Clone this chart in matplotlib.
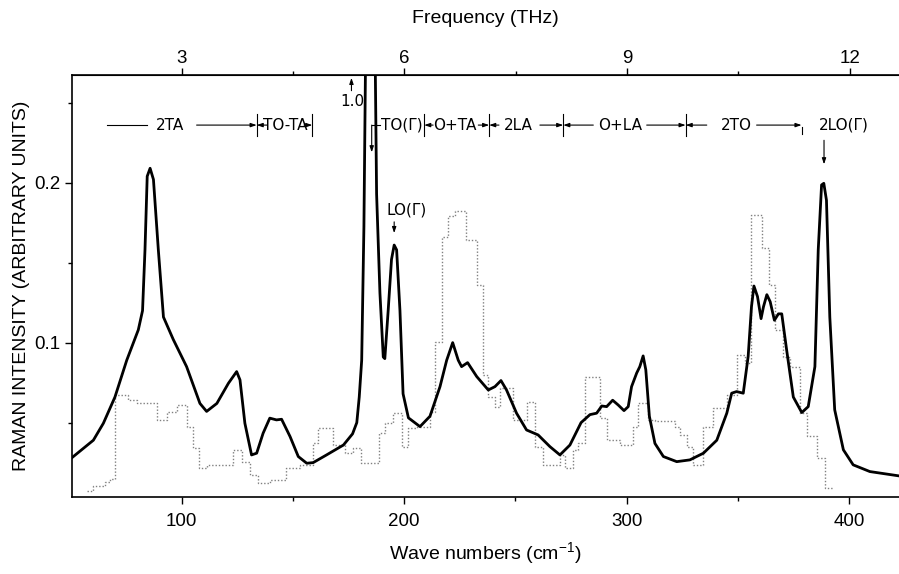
import matplotlib.pyplot as plt
from matplotlib.ticker import FixedLocator

plt.rcParams['font.family'] = ['Liberation Sans', 'DejaVu Sans']
plt.rcParams['mathtext.fontset'] = 'custom'
plt.rcParams['mathtext.rm'] = 'Liberation Sans'

# solid curve: measured Raman spectrum (wave number, intensity)
raman_wn = [50.6, 60.3, 64.8, 70.0, 75.3, 80.5, 82.4, 83.5, 84.5, 85.8, 87.3, 89.5,
            91.8, 96.2, 102.2, 108.2, 111.2, 115.8, 121.0, 124.7, 126.2, 128.4,
            131.4, 133.7, 136.6, 139.6, 142.6, 144.9, 148.7, 152.4, 156.2, 159.1,
            165.1, 172.7, 176.8, 178.7, 179.8, 180.9, 181.9, 182.8, 184.7, 186.8,
            187.6, 189.1, 190.6, 191.3, 192.8, 194.3, 195.5, 196.6, 198.1, 199.5,
            201.9, 207.1, 211.6, 216.1, 219.1, 221.8, 224.3, 225.8, 228.5, 232.6,
            237.8, 240.8, 243.5, 246.0, 250.5, 255.0, 260.2, 265.5, 270.0, 274.5,
            279.5, 283.5, 286.5, 288.8, 291.0, 293.7, 296.2, 298.8, 300.7, 302.2,
            304.5, 305.9, 307.4, 308.6, 310.2, 312.7, 316.5, 322.5, 328.4, 334.5,
            340.5, 345.0, 347.2, 349.4, 352.4, 354.6, 356.1, 357.2, 358.8, 360.4,
            361.5, 363.0, 364.5, 366.4, 368.2, 369.7, 371.9, 374.9, 378.7, 381.6,
            384.6, 386.1, 387.6, 388.6, 389.8, 391.3, 393.5, 397.4, 401.8, 409.3,
            422.4]
raman_int = [0.028, 0.039, 0.0496, 0.066, 0.089, 0.108, 0.120, 0.158, 0.204, 0.209,
             0.202, 0.158, 0.116, 0.102, 0.085, 0.062, 0.057, 0.062, 0.0746, 0.0819,
             0.0767, 0.0496, 0.0298, 0.0309, 0.0434, 0.0528, 0.0517, 0.0521, 0.0413,
             0.0288, 0.0246, 0.025, 0.0298, 0.036, 0.043, 0.050, 0.066, 0.089, 0.1725,
             0.30, 1.0, 0.30, 0.193, 0.131, 0.091, 0.090, 0.120, 0.152, 0.161, 0.158,
             0.120, 0.068, 0.053, 0.0475, 0.054, 0.0725, 0.089, 0.100, 0.089, 0.085,
             0.0875, 0.0788, 0.0704, 0.0725, 0.0763, 0.0704, 0.0559, 0.0454, 0.0423,
             0.035, 0.0298, 0.036, 0.050, 0.055, 0.0559, 0.0604, 0.060, 0.064, 0.061,
             0.0575, 0.060, 0.0725, 0.081, 0.085, 0.0917, 0.083, 0.054, 0.037, 0.0288,
             0.0256, 0.0267, 0.0309, 0.039, 0.0559, 0.0684, 0.0694, 0.0684, 0.0913,
             0.1225, 0.1354, 0.1288, 0.115, 0.1225, 0.130, 0.1256, 0.114, 0.118, 0.118,
             0.0954, 0.066, 0.0563, 0.060, 0.085, 0.158, 0.1986, 0.1996, 0.189, 0.116,
             0.058, 0.033, 0.0236, 0.0194, 0.0167]

# dotted histogram: bin left edges and heights
dos_edges = [57.4, 60.3, 65.6, 67.8, 70.0, 76.0, 79.7, 88.8, 93.3, 97.8, 102.2, 105.2,
             107.9, 111.2, 123.2, 127.0, 130.7, 134.4, 139.6, 147.1, 153.2, 159.1,
             161.4, 168.1, 173.3, 177.0, 180.7, 188.8, 191.2, 195.0, 198.8, 201.8,
             205.5, 211.6, 213.9, 216.8, 219.8, 222.8, 228.0, 232.6, 235.6, 237.8,
             240.8, 243.0, 249.0, 255.0, 258.7, 262.4, 270.0, 272.2, 276.0, 278.2,
             281.2, 288.0, 291.0, 297.0, 303.0, 305.2, 309.7, 312.6, 321.7, 323.9,
             326.9, 329.6, 334.5, 339.0, 345.0, 349.4, 353.2, 356.1, 360.6, 364.0,
             366.6, 370.4, 373.3, 377.8, 380.9, 385.4, 389.2, 392.6]
dos_vals = [0.0075, 0.0104, 0.013, 0.015, 0.0673, 0.0642, 0.0621, 0.0517, 0.0569, 0.061,
            0.0475, 0.034, 0.0215, 0.0236, 0.033, 0.0256, 0.0173, 0.0121, 0.0142, 0.0215,
            0.0236, 0.037, 0.0469, 0.036, 0.031, 0.034, 0.0245, 0.0434, 0.0496, 0.0559,
            0.035, 0.0465, 0.0475, 0.0569, 0.1006, 0.166, 0.179, 0.182, 0.164, 0.136,
            0.0798, 0.066, 0.060, 0.0715, 0.0517, 0.063, 0.035, 0.0236, 0.0298, 0.0215,
            0.033, 0.037, 0.0788, 0.0527, 0.0392, 0.036, 0.0475, 0.0621, 0.0517, 0.051,
            0.0475, 0.0423, 0.035, 0.0236, 0.0475, 0.059, 0.0673, 0.0923, 0.087, 0.18,
            0.159, 0.136, 0.108, 0.0913, 0.085, 0.056, 0.0417, 0.0278, 0.009, 0.009]

# assignment row along the top
band_bars = [133.7, 158.7, 209.0, 238.2, 271.5, 326.5]
band_labels = ['2TA', 'TO-TA', 'O+TA', '2LA', 'O+LA', '2TO']
band_label_x = [94.7, 146.4, 222.8, 251.3, 297.0, 349.4]
# arrow segments (tail, head) in wave numbers
band_arrows = [(106.7, 133.7), (138.4, 133.7), (155.0, 158.7), (213.0, 209.0),
               (233.3, 238.2), (242.6, 238.2), (261.0, 271.5), (285.0, 271.5),
               (309.0, 326.5), (336.0, 326.5), (358.4, 378.6)]
row_y = 0.236

fig = plt.figure(figsize=(8.99, 5.74), dpi=100)
ax = fig.add_axes([0.0801, 0.1347, 0.9199, 0.7346])

ax.step(dos_edges, dos_vals, where='post', color='0.5', lw=1.0,
        ls=(0, (1, 1.4)))
ax.plot(raman_wn, raman_int, color='black', lw=2.0, solid_joinstyle='round')

ax.set_xlim(50.7, 422.4)
ax.set_ylim(0.0037, 0.2673)

ax.set_xticks([100, 200, 300, 400])
ax.xaxis.set_minor_locator(FixedLocator([150, 250, 350]))
ax.set_yticks([0.1, 0.2])
ax.set_yticklabels(['0.1', '0.2'])
ax.yaxis.set_minor_locator(FixedLocator([0.05, 0.15, 0.25]))
ax.tick_params(which='major', direction='out', length=5, width=1, labelsize=13.5)
ax.tick_params(which='minor', direction='out', length=3, width=1)
ax.tick_params(axis='x', pad=7)
ax.spines['right'].set_visible(False)
for s in ['left', 'bottom', 'top']:
    ax.spines[s].set_linewidth(1.2)

ax.set_xlabel('Wave numbers (cm$^{\\mathregular{-1}}$)', fontsize=14, labelpad=7)
ax.set_ylabel('RAMAN INTENSITY (ARBITRARY UNITS)', fontsize=14, labelpad=3)

top = ax.secondary_xaxis('top', functions=(lambda w: w / 33.356, lambda f: f * 33.356))
top.set_xticks([3, 6, 9, 12])
top.xaxis.set_minor_locator(FixedLocator([4.5, 7.5, 10.5]))
top.tick_params(which='major', direction='out', length=5, width=1, labelsize=13.5, pad=1)
top.tick_params(which='minor', direction='out', length=3, width=1)
top.set_xlabel('Frequency (THz)', fontsize=14, labelpad=19)

lab_font = dict(fontsize=11, family='DejaVu Sans', ha='center', va='center')
ahead = dict(arrowstyle='-|>,head_length=0.35,head_width=0.12', color='black',
             lw=0.8, shrinkA=0, shrinkB=0)

for x, lab in zip(band_label_x, band_labels):
    ax.text(x, row_y, lab, **lab_font)
ax.plot([66.3, 84.3], [row_y, row_y], color='black', lw=0.8)
for tail, head in band_arrows:
    ax.annotate('', xy=(head, row_y), xytext=(tail, row_y), arrowprops=ahead)
for b in band_bars:
    ax.plot([b, b], [0.229, 0.243], color='black', lw=0.8)
ax.plot([379.0, 379.0], [0.2305, 0.2345], color='black', lw=0.8)

# TO(G) label with bent arrow into the off-scale peak
ax.text(199.0, row_y, 'TO(Γ)', **lab_font)
ax.plot([189.0, 185.4], [row_y, row_y], color='black', lw=0.8)
ax.annotate('', xy=(185.4, 0.219), xytext=(185.4, row_y), arrowprops=ahead)

# peak value of the off-scale line
ax.text(176.6, 0.2505, '1.0', **lab_font)
ax.annotate('', xy=(176.3, 0.2655), xytext=(176.3, 0.2575), arrowprops=ahead)

ax.text(201.1, 0.183, 'LO(Γ)', **lab_font)
ax.annotate('', xy=(195.5, 0.1685), xytext=(195.5, 0.1755), arrowprops=ahead)

ax.text(397.7, row_y, '2LO(Γ)', **lab_font)
ax.annotate('', xy=(388.7, 0.2115), xytext=(388.7, 0.2265), arrowprops=ahead)

fig.savefig('out.png', dpi=100)
